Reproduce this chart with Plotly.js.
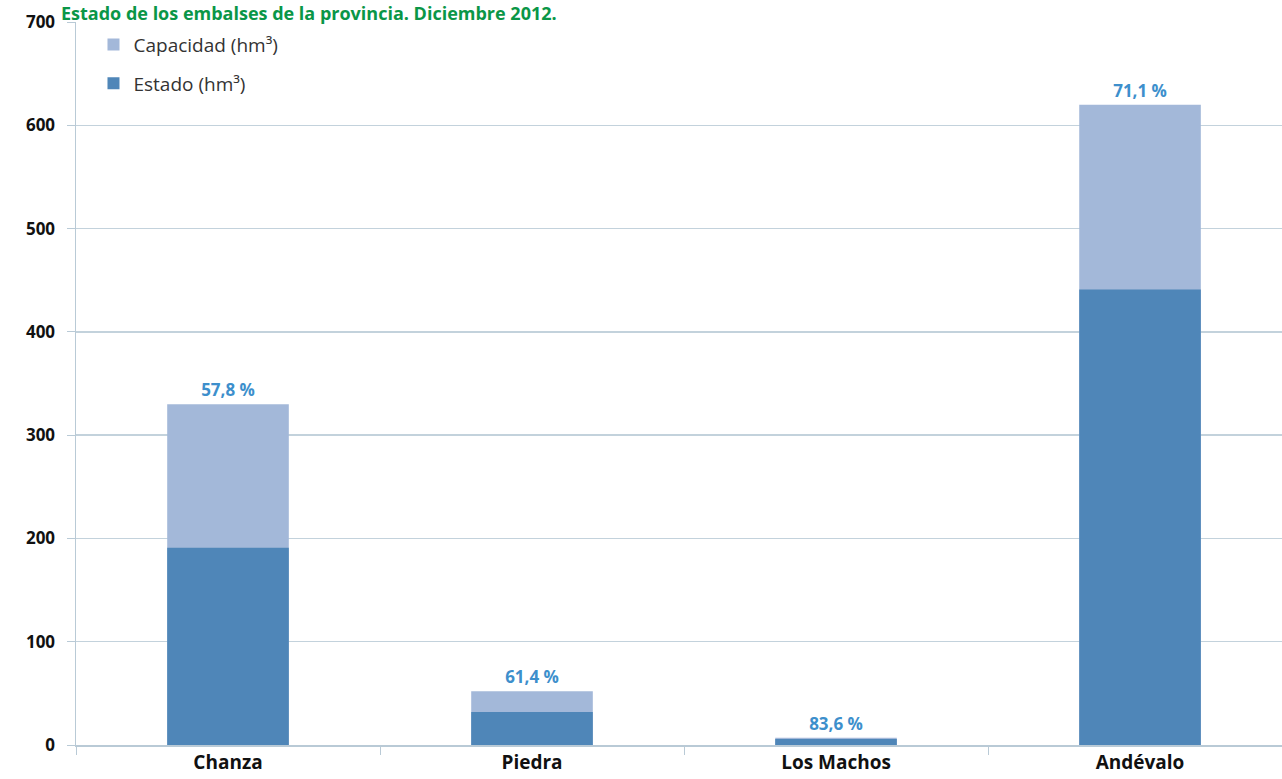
<!DOCTYPE html>
<html>
<head>
<meta charset="utf-8">
<script src="https://cdn.plot.ly/plotly-3.0.1.min.js"></script>
<style>html,body{margin:0;padding:0;background:#fff;}#chart{width:1282px;height:779px;}</style>
</head>
<body>
<div id="chart"></div>
<script>
const categories = ["Chanza", "Piedra", "Los Machos", "Andévalo"];
const capacidad = [330, 52, 7, 620];
const estado = [191, 32, 5.9, 441];
const porcentaje = [57.8, 61.4, 83.6, 71.1];
const yTicks = [0, 100, 200, 300, 400, 500, 600, 700];
const titleText = "Estado de los embalses de la provincia. Diciembre 2012.";

const pctLabels = porcentaje.map(p => p.toFixed(1).replace('.', ',') + ' %');

const traces = [
  {
    type: 'bar', name: 'Capacidad (hm³)', x: categories, y: capacidad,
    width: 0.4, marker: {color: '#A3B8D9'}, legendgroup: 'a',
    text: pctLabels, textposition: 'outside', cliponaxis: false,
    textfont: {family: 'Open Sans', size: 17, color: '#3D8FCC', weight: 'bold'},
    hoverinfo: 'x+y'
  },
  {
    type: 'bar', name: 'Estado (hm³)', x: categories, y: estado,
    width: 0.4, marker: {color: '#4F86B8'}, legendgroup: 'b',
    hoverinfo: 'x+y'
  }
];

const layout = {
  width: 1282, height: 779,
  margin: {l: 76, r: 0, t: 22, b: 34},
  paper_bgcolor: '#fff', plot_bgcolor: '#fff',
  barmode: 'overlay',
  showlegend: true,
  legend: {
    x: 0.0145, y: 0.995, xanchor: 'left', yanchor: 'top',
    bgcolor: 'rgba(255,255,255,0)',
    font: {family: 'Open Sans', size: 19, color: '#333'},
    itemwidth: 30, tracegroupgap: 11
  },
  xaxis: {
    type: 'category', range: [-0.5, 3.467],
    tickson: 'boundaries', ticks: 'outside', ticklen: 8, tickcolor: '#B9CAD6',
    showline: true, linecolor: '#B9CAD6', linewidth: 1.5,
    showgrid: false, zeroline: false,
    tickfont: {family: 'Open Sans', size: 19, color: '#111', weight: 'bold'}
  },
  yaxis: {
    range: [0, 700], tickvals: yTicks, ticktext: yTicks.map(String),
    ticks: 'outside', ticklen: 8, tickcolor: '#B9CAD6',
    showline: true, linecolor: '#B9CAD6', linewidth: 1.5,
    showgrid: true, gridcolor: '#C3D2DC', gridwidth: 1.5, zeroline: false,
    ticklabelstandoff: 8,
    tickfont: {family: 'Open Sans', size: 17, color: '#111', weight: 'bold'}
  },
  annotations: [{
    text: titleText, xref: 'paper', yref: 'paper',
    x: (60 - 76) / 1206, xanchor: 'left',
    y: 1 + 22 / 723, yanchor: 'top', borderpad: 0,
    showarrow: false,
    font: {family: 'Open Sans', size: 18, color: '#0A9647', weight: 'bold'}
  }]
};

Plotly.newPlot('chart', traces, layout, {displayModeBar: false, staticPlot: true});
</script>
</body>
</html>
